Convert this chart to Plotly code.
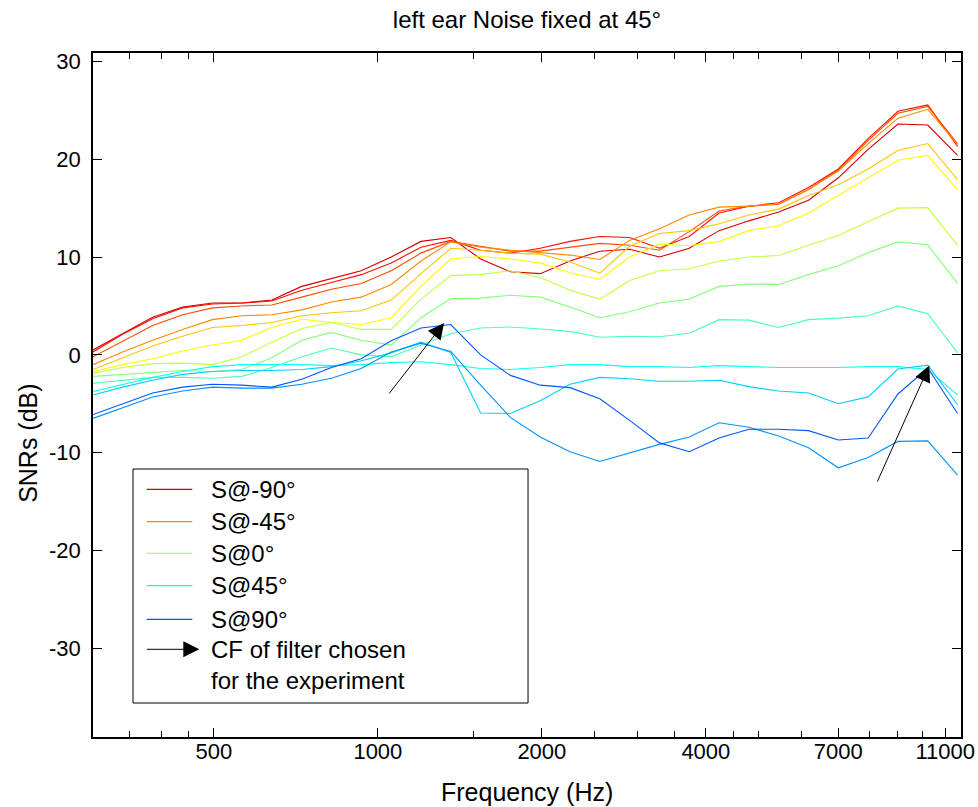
import math
import plotly.graph_objects as go

# ---------------- data ----------------
FREQ_HZ = [300, 340, 386, 438, 497, 563, 639, 725, 822, 932, 1058, 1200, 1361, 1544, 1751,
           1986, 2253, 2555, 2898, 3287, 3729, 4230, 4798, 5442, 6173, 7002, 7942, 9009, 10219, 11591]

ANGLES = [-90, -75, -60, -45, -30, -15, 0, 15, 30, 45, 60, 75, 90]

SNR_M90 = [0.5, 2.2, 3.85, 4.9, 5.3, 5.3, 5.6, 7.0, 7.8, 8.6, 10.0, 11.6, 12.0, 9.8, 8.5, 8.3, 9.6, 10.6, 10.8, 10.0,
           10.9, 12.7, 13.7, 14.6, 15.8, 18.1, 21.0, 23.6, 23.5, 20.4]
SNR_M75 = [0.3, 2.1, 3.7, 4.8, 5.2, 5.3, 5.5, 6.6, 7.4, 8.2, 9.4, 11.0, 11.7, 10.7, 10.4, 10.9, 11.6, 12.1, 12.0, 10.9,
           12.1, 14.5, 15.2, 15.55, 17.1, 19.0, 22.1, 24.9, 25.55, 21.3]
SNR_M60 = [-0.2, 1.4, 3.0, 4.1, 4.8, 5.0, 5.1, 5.9, 6.7, 7.3, 8.6, 10.4, 11.6, 11.1, 10.6, 10.6, 11.0, 11.4, 11.2, 10.7,
           12.6, 14.7, 15.2, 15.4, 16.9, 18.9, 21.9, 24.7, 25.4, 21.6]
SNR_M45 = [-1.0, 0.3, 1.5, 2.6, 3.6, 4.0, 4.1, 4.6, 5.4, 5.9, 7.2, 9.6, 11.55, 11.0, 10.7, 10.45, 10.2, 9.75, 11.7, 12.9,
           14.3, 15.1, 15.2, 15.45, 16.9, 18.8, 21.6, 24.2, 25.1, 21.5]
SNR_M30 = [-1.5, -0.3, 0.9, 1.9, 2.8, 3.0, 3.3, 4.0, 4.3, 4.5, 5.6, 8.3, 10.9, 10.7, 10.4, 10.3, 9.5, 8.35, 11.1, 12.4,
           12.7, 13.4, 14.3, 14.9, 16.3, 17.4, 19.0, 20.9, 21.6, 17.9]
SNR_M15 = [-1.7, -1.0, -0.4, 0.4, 1.0, 1.5, 2.8, 3.65, 3.3, 3.1, 3.8, 7.0, 9.8, 10.05, 9.8, 9.4, 8.4, 7.7, 10.0, 11.3,
           11.15, 11.6, 12.7, 13.2, 14.5, 16.3, 18.1, 19.9, 20.4, 16.9]
SNR_0 = [-1.9, -1.3, -0.9, -0.85, -1.0, -0.2, 1.3, 2.7, 3.3, 2.6, 2.6, 5.7, 8.1, 8.2, 8.6, 7.9, 6.6, 5.7, 7.6, 8.6,
         8.8, 9.6, 10.0, 10.15, 11.2, 12.2, 13.6, 15.0, 15.05, 11.2]
SNR_P15 = [-2.2, -2.0, -1.8, -1.6, -1.7, -1.5, -0.3, 1.5, 2.3, 1.5, 1.0, 3.8, 5.75, 5.8, 6.1, 5.9, 4.9, 3.8, 4.4, 5.3,
           5.7, 7.0, 7.25, 7.2, 8.2, 9.1, 10.45, 11.55, 11.25, 7.3]
SNR_P30 = [-2.9, -2.6, -2.3, -2.3, -2.4, -2.2, -1.3, -0.2, 0.7, 0.0, -0.2, 1.0, 2.15, 2.75, 2.85, 2.65, 2.4, 1.8, 1.9, 1.85,
           2.2, 3.6, 3.55, 2.8, 3.6, 3.75, 4.0, 5.0, 4.2, 0.2]
SNR_P45 = [-3.75, -3.0, -2.3, -1.7, -1.2, -1.0, -1.0, -1.0, -1.1, -1.0, -0.8, -0.7, -1.0, -1.4, -1.5, -1.3, -1.0, -1.0, -1.2, -1.2,
           -1.3, -1.1, -1.2, -1.3, -1.3, -1.3, -1.2, -1.2, -1.5, -4.1]
SNR_P60 = [-4.1, -3.3, -2.6, -2.0, -1.7, -1.6, -1.6, -1.5, -1.2, -0.6, 0.2, 1.3, 0.25, -5.95, -6.0, -4.7, -3.0, -2.3, -2.45, -2.7,
           -2.7, -2.6, -3.25, -3.7, -3.9, -5.0, -4.3, -1.45, -1.05, -5.1]
SNR_P75 = [-6.5, -5.4, -4.3, -3.7, -3.3, -3.4, -3.4, -3.0, -2.4, -1.4, 0.3, 1.2, 0.35, -3.1, -6.4, -8.4, -9.9, -10.9, -10.0, -9.15,
           -8.4, -6.95, -7.4, -8.3, -9.5, -11.55, -10.5, -8.85, -8.8, -12.3]
SNR_P90 = [-6.1, -5.0, -3.9, -3.3, -3.0, -3.1, -3.3, -2.5, -1.3, -0.4, 1.45, 2.75, 3.1, 0.0, -2.1, -3.1, -3.35, -4.5, -6.7, -9.0,
           -9.9, -8.5, -7.6, -7.6, -7.75, -8.7, -8.5, -4.0, -1.35, -6.0]

SERIES = [SNR_M90, SNR_M75, SNR_M60, SNR_M45, SNR_M30, SNR_M15, SNR_0,
          SNR_P15, SNR_P30, SNR_P45, SNR_P60, SNR_P75, SNR_P90]

LEGEND_ANGLES = [-90, -45, 0, 45, 90]

X_TICKS = [500, 1000, 2000, 4000, 7000, 11000]
X_MINOR_TICKS = [350, 400, 450, 1500, 2500, 3000, 3500, 4500, 5000, 6000, 8000, 9000, 10000]
Y_TICKS = [-30, -20, -10, 0, 10, 20, 30]

# arrows: (head freq, head SNR, tail freq, tail SNR)
ARROWS = [(1323, 3.25, 1044, -4.1), (10285, -1.1, 8236, -13.1)]

# ---------------- style ----------------
COLORS = ["#d10000", "#ff0e00", "#ff4a00", "#ff8700", "#ffc400", "#feff01", "#c2ff3d",
          "#86ff79", "#49ffb6", "#0dfff2", "#00d0ff", "#0093ff", "#0057ff"]
FONT = "Liberation Sans, Arial, Helvetica, sans-serif"

fig = go.Figure()
for ang, vals, col in zip(ANGLES, SERIES, COLORS):
    fig.add_trace(go.Scatter(x=FREQ_HZ, y=vals, mode="lines", name=f"S@{ang}°",
                             line=dict(color=col, width=1.1), showlegend=False))

annotations = []
for hx, hy, tx, ty in ARROWS:
    annotations.append(dict(x=math.log10(hx), y=hy, ax=math.log10(tx), ay=ty,
                            xref="x", yref="y", axref="x", ayref="y", text="",
                            showarrow=True, arrowhead=2, arrowsize=3.2, arrowwidth=1,
                            arrowcolor="black"))

# custom legend (paper coordinates)
L_X0, L_X1, L_Y0, L_Y1 = 0.0461, 0.5012, 0.0497, 0.3918
ROW_Y = [0.3621, 0.3148, 0.2686, 0.2212, 0.1721]
LEG_FONT = dict(size=24, color="black", family=FONT)
shapes = [dict(type="rect", xref="paper", yref="paper", x0=L_X0, x1=L_X1, y0=L_Y0, y1=L_Y1,
               line=dict(color="black", width=1), fillcolor="white", layer="above")]
for ang, ry in zip(LEGEND_ANGLES, ROW_Y):
    col = COLORS[ANGLES.index(ang)]
    shapes.append(dict(type="line", xref="paper", yref="paper", x0=0.0619, x1=0.1144, y0=ry, y1=ry,
                       line=dict(color=col, width=1.2), layer="above"))
    annotations.append(dict(x=0.1336, y=ry, xref="paper", yref="paper", text=f"S@{ang}°",
                            showarrow=False, xanchor="left", yanchor="middle", font=LEG_FONT))
annotations.append(dict(x=0.1225, y=0.1282, xref="paper", yref="paper", ax=-54, ay=0,
                        axref="pixel", ayref="pixel", text="", showarrow=True,
                        arrowhead=2, arrowsize=3.2, arrowwidth=1, arrowcolor="black"))
annotations.append(dict(x=0.1336, y=0.1282, xref="paper", yref="paper", text="CF of filter chosen",
                        showarrow=False, xanchor="left", yanchor="middle", font=LEG_FONT))
annotations.append(dict(x=0.1336, y=0.0833, xref="paper", yref="paper", text="for the experiment",
                        showarrow=False, xanchor="left", yanchor="middle", font=LEG_FONT))

# axis titles
annotations.append(dict(x=0.5, y=-0.0804, xref="paper", yref="paper", text="Frequency (Hz)",
                        showarrow=False, xanchor="center", yanchor="middle",
                        font=dict(size=25, color="black", family=FONT)))
annotations.append(dict(x=-0.0749, y=0.43, xref="paper", yref="paper", text="SNRs (dB)",
                        showarrow=False, xanchor="center", yanchor="middle", textangle=-90,
                        font=dict(size=25, color="black", family=FONT)))

fig.update_layout(
    width=978, height=807, autosize=False,
    margin=dict(l=93, r=17, t=53, b=70, pad=0, autoexpand=False),
    paper_bgcolor="white", plot_bgcolor="white",
    font=dict(family=FONT, size=22, color="black"),
    title=dict(text="left ear Noise fixed at 45°", x=0.5, xref="paper", xanchor="center",
               y=1 - 20 / 807, yref="container", yanchor="middle",
               font=dict(size=24, color="black", family=FONT)),
    showlegend=False,
    shapes=shapes,
    annotations=annotations,
)
fig.update_xaxes(type="log", range=[math.log10(300), math.log10(11760)], automargin=False,
                 tickmode="array", tickvals=X_TICKS, ticktext=[str(v) for v in X_TICKS],
                 ticks="inside", ticklen=9, tickwidth=1, tickcolor="black",
                 showline=True, linecolor="black", linewidth=1.5, mirror="ticks",
                 showgrid=False, zeroline=False, ticklabelstandoff=-6,
                 minor=dict(tickmode="array", tickvals=X_MINOR_TICKS, ticks="inside", ticklen=6,
                            tickwidth=1, tickcolor="black", showgrid=False),
                 tickfont=dict(size=22, family=FONT, color="black"))
fig.update_yaxes(range=[-39.07, 30.86], tickmode="array", tickvals=Y_TICKS, automargin=False,
                 ticktext=[str(v) for v in Y_TICKS],
                 ticks="inside", ticklen=9, tickwidth=1, tickcolor="black",
                 showline=True, linecolor="black", linewidth=1.5, mirror="ticks",
                 showgrid=False, zeroline=False, ticklabelstandoff=6,
                 tickfont=dict(size=22, family=FONT, color="black"))

fig.write_html("out.html")
